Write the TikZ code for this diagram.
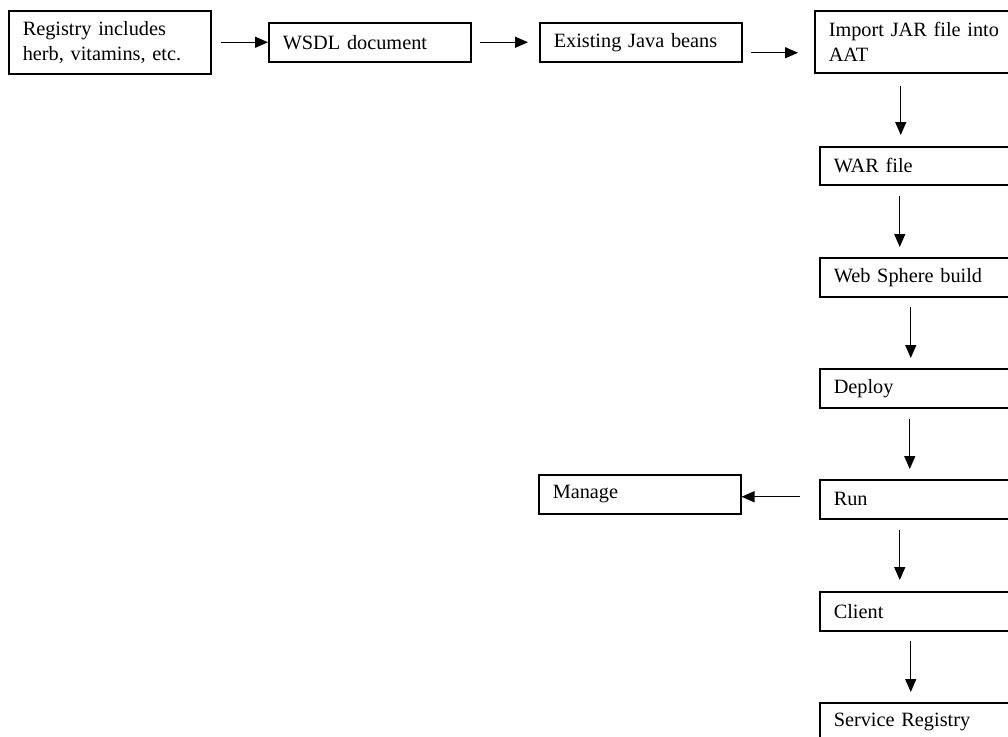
\documentclass[tikz,border=0pt]{standalone}
\usepackage{fontspec}
\setmainfont{Liberation Serif}
\usetikzlibrary{arrows.meta,calc}
\tikzset{
  box/.style={draw, line width=1.5pt, rectangle, anchor=north west, minimum width=202pt,
    minimum height=39pt, inner xsep=14pt, inner ysep=0pt, text width=174pt, align=left,
    font=\fontsize{20.3}{25}\selectfont},
  arr/.style={line width=1.4pt, -{Triangle[length=13pt,width=11pt]}}
}
\begin{document}
\begin{tikzpicture}[x=1pt,y=-1pt]
\useasboundingbox (0,0) rectangle (1008,736);
\node[box, minimum width=201pt, minimum height=63pt] (reg) at (8,10) {Registry includes\\herb, vitamins, etc.};
\node[box] (wsdl) at (268,22) {WSDL document};
\node[box, minimum width=201pt] (java) at (539,22) {Existing Java beans};
\node[box, minimum height=62pt] (jar) at (814,10) {Import JAR file into\\AAT};
\node[box, minimum height=38pt] (war) at (819,146) {WAR file};
\node[box] (web) at (819,257) {Web Sphere build};
\node[box] (dep) at (819,368) {Deploy};
\node[box] (run) at (819,479) {Run};
\node[box] (man) at (538,474) {Manage};
\node[box] (cli) at (819,591) {Client};
\node[box] (svc) at (819,702) {Service Registry};

\draw[arr] ($(reg.east)+(9,0)$) -- (wsdl.west);
\draw[arr] ($(wsdl.east)+(8,0)$) -- ($(java.west)+(-11,0)$);
\draw[arr] ($(java.east)+(8,10.5)$) -- ($(jar.west)+(-16,11)$);
\draw[arr] ($(jar.south)+(-15,12)$) -- ($(war.north)+(-20,-11)$);
\draw[arr] ($(war.south)+(-21,10)$) -- ($(web.north)+(-21,-10)$);
\draw[arr] ($(web.south)+(-10,9)$) -- ($(dep.north)+(-10,-10)$);
\draw[arr] ($(dep.south)+(-11,10)$) -- ($(run.north)+(-11,-10)$);
\draw[arr] ($(run.west)+(-19,-2.5)$) -- ($(man.east)+(0,2.5)$);
\draw[arr] ($(run.south)+(-21,10)$) -- ($(cli.north)+(-21,-11)$);
\draw[arr] ($(cli.south)+(-10,9)$) -- ($(svc.north)+(-10,-10)$);
\end{tikzpicture}
\end{document}
